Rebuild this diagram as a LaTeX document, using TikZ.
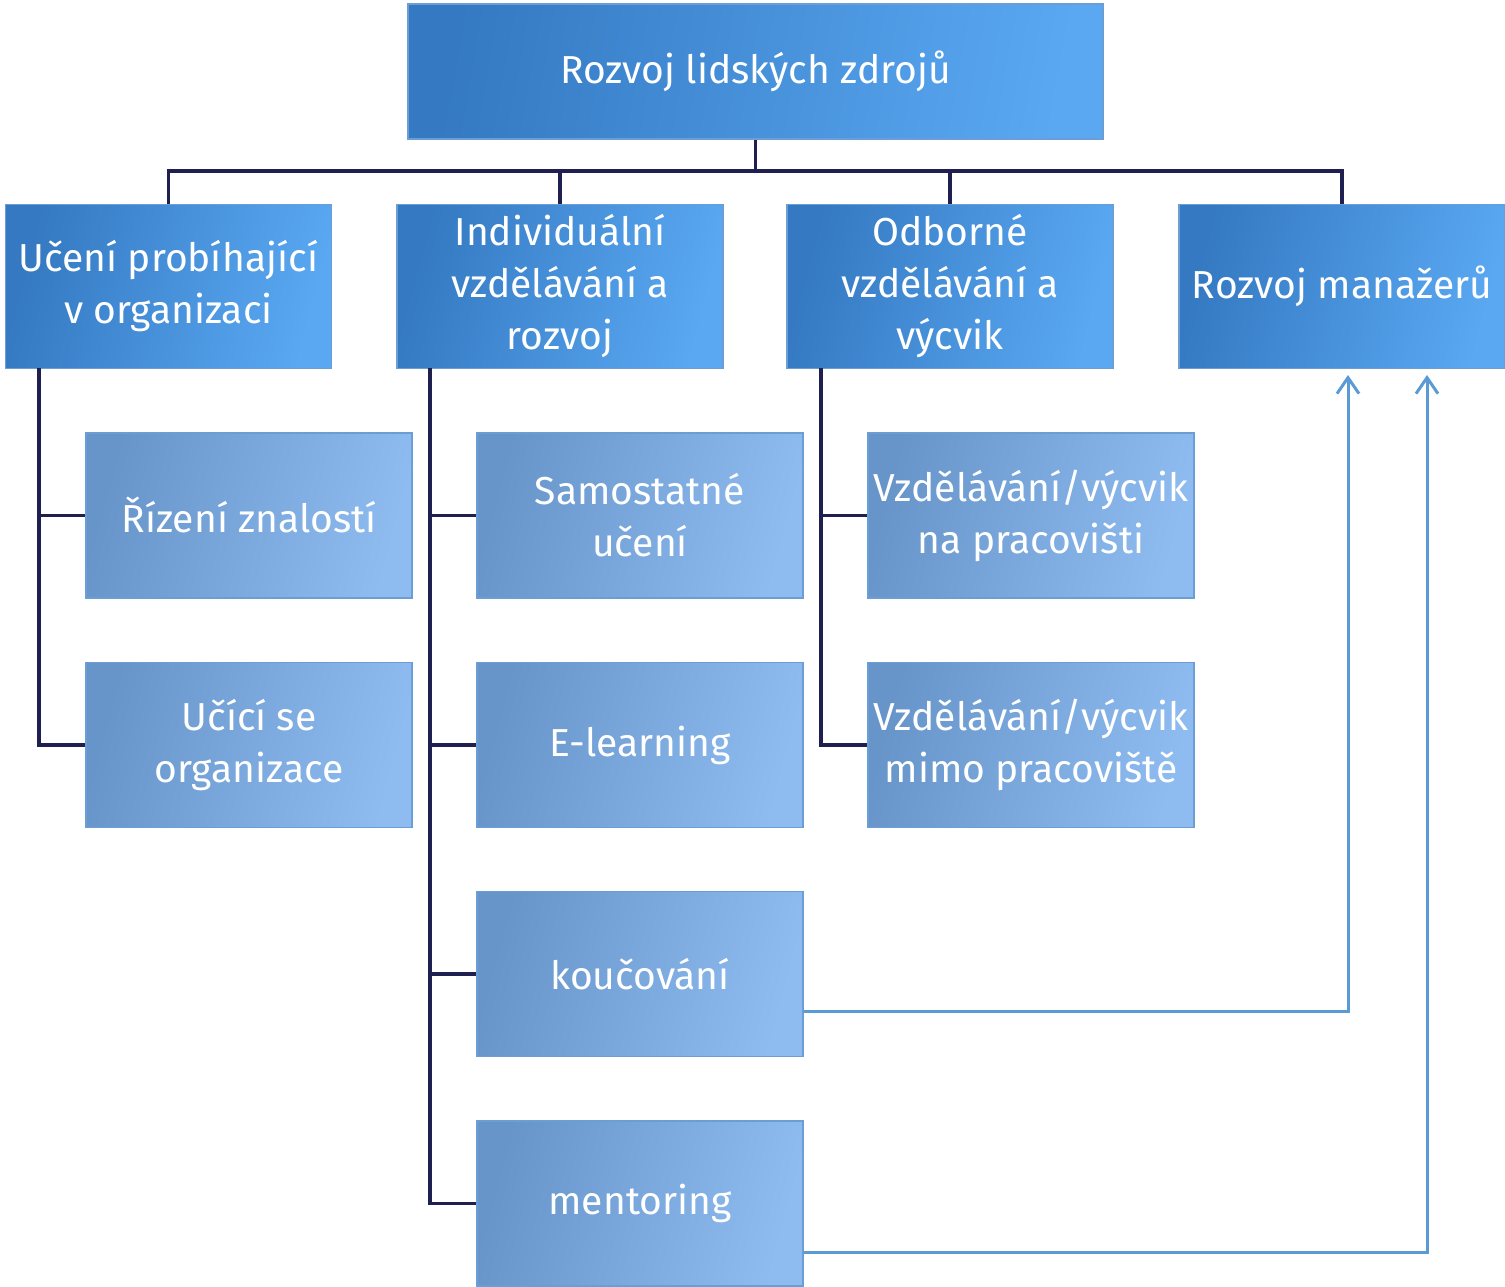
\documentclass[tikz,border=0pt]{standalone}
\usepackage{fontspec}
\setmainfont{Fira Sans}
\usetikzlibrary{arrows.meta}
\definecolor{dkA}{HTML}{3479C2}
\definecolor{dkB}{HTML}{5AA8F2}
\definecolor{ltA}{HTML}{6795CA}
\definecolor{ltB}{HTML}{8EBCF0}
\definecolor{edgeC}{HTML}{6C9ED6}
\definecolor{navy}{HTML}{1F2050}
\definecolor{arrC}{HTML}{5B9BD5}
\tikzset{
  boxbase/.style={rectangle, inner sep=0pt, align=center, text=white,
    font=\fontsize{39}{52}\selectfont, draw=edgeC, line width=1.2pt},
  topbox/.style={boxbase, minimum width=695pt, minimum height=135pt,
    shading=axis, left color=dkA, right color=dkB, shading angle=80},
  lvltwo/.style={boxbase, minimum width=326pt, minimum height=164pt,
    shading=axis, left color=dkA, right color=dkB, shading angle=75},
  lvlthree/.style={boxbase, minimum width=326pt, minimum height=165pt,
    shading=axis, left color=ltA, right color=ltB, shading angle=75},
  conn/.style={draw=navy, line width=3.2pt},
  arr/.style={draw=arrC, line width=3pt, -{Straight Barb[length=16pt,width=22pt,line width=3pt]}}
}
\begin{document}
\begin{tikzpicture}[x=1pt,y=-1pt]
\useasboundingbox (0,0) rectangle (1505,1287);
\fill[white] (0,0) rectangle (1505,1287);

\node[topbox] (top) at (755.5,71.5) {Rozvoj lidských zdrojů};

\node[lvltwo] (b1) at (168.5,286.5) {Učení probíhající\\v organizaci};
\node[lvltwo] (b2) at (560,286.5) {Individuální\\vzdělávání a\\rozvoj};
\node[lvltwo] (b3) at (950,286.5) {Odborné\\vzdělávání a\\výcvik};
\node[lvltwo] (b4) at (1342,286.5) {Rozvoj manažerů};

\node[lvlthree] (c11) at (249,515.5) {Řízení znalostí};
\node[lvlthree] (c12) at (249,745) {Učící se\\organizace};
\node[lvlthree] (c21) at (640,515.5) {Samostatné\\učení};
\node[lvlthree] (c22) at (640,745) {E-learning};
\node[lvlthree] (c23) at (640,974) {koučování};
\node[lvlthree] (c24) at (640,1203.5) {mentoring};
\node[lvlthree] (c31) at (1031,515.5) {Vzdělávání/výcvik\\na pracovišti};
\node[lvlthree] (c32) at (1031,745) {Vzdělávání/výcvik\\mimo pracoviště};

\coordinate (bus) at (755,171);
\draw[conn] (top.south) -- (top.south |- bus);
\foreach \b in {b1,b2,b3,b4}{
  \draw[conn] (top.south |- bus) -| (\b.north);
}

\coordinate (t1) at (39,368);
\coordinate (t2) at (430,368);
\coordinate (t3) at (821,368);
\draw[conn] (t1) |- (c11.west);
\draw[conn] (t1) |- (c12.west);
\draw[conn] (t2) |- (c21.west);
\draw[conn] (t2) |- (c22.west);
\draw[conn] (t2) |- (c23.west);
\draw[conn] (t2) |- (c24.west);
\draw[conn] (t3) |- (c31.west);
\draw[conn] (t3) |- (c32.west);

\coordinate (a1) at (1348,375);
\coordinate (a2) at (1427,375);
\draw[arr] ([yshift=-37pt]c23.east) -| (a1);
\draw[arr] ([yshift=-48.5pt]c24.east) -| (a2);
\end{tikzpicture}
\end{document}
